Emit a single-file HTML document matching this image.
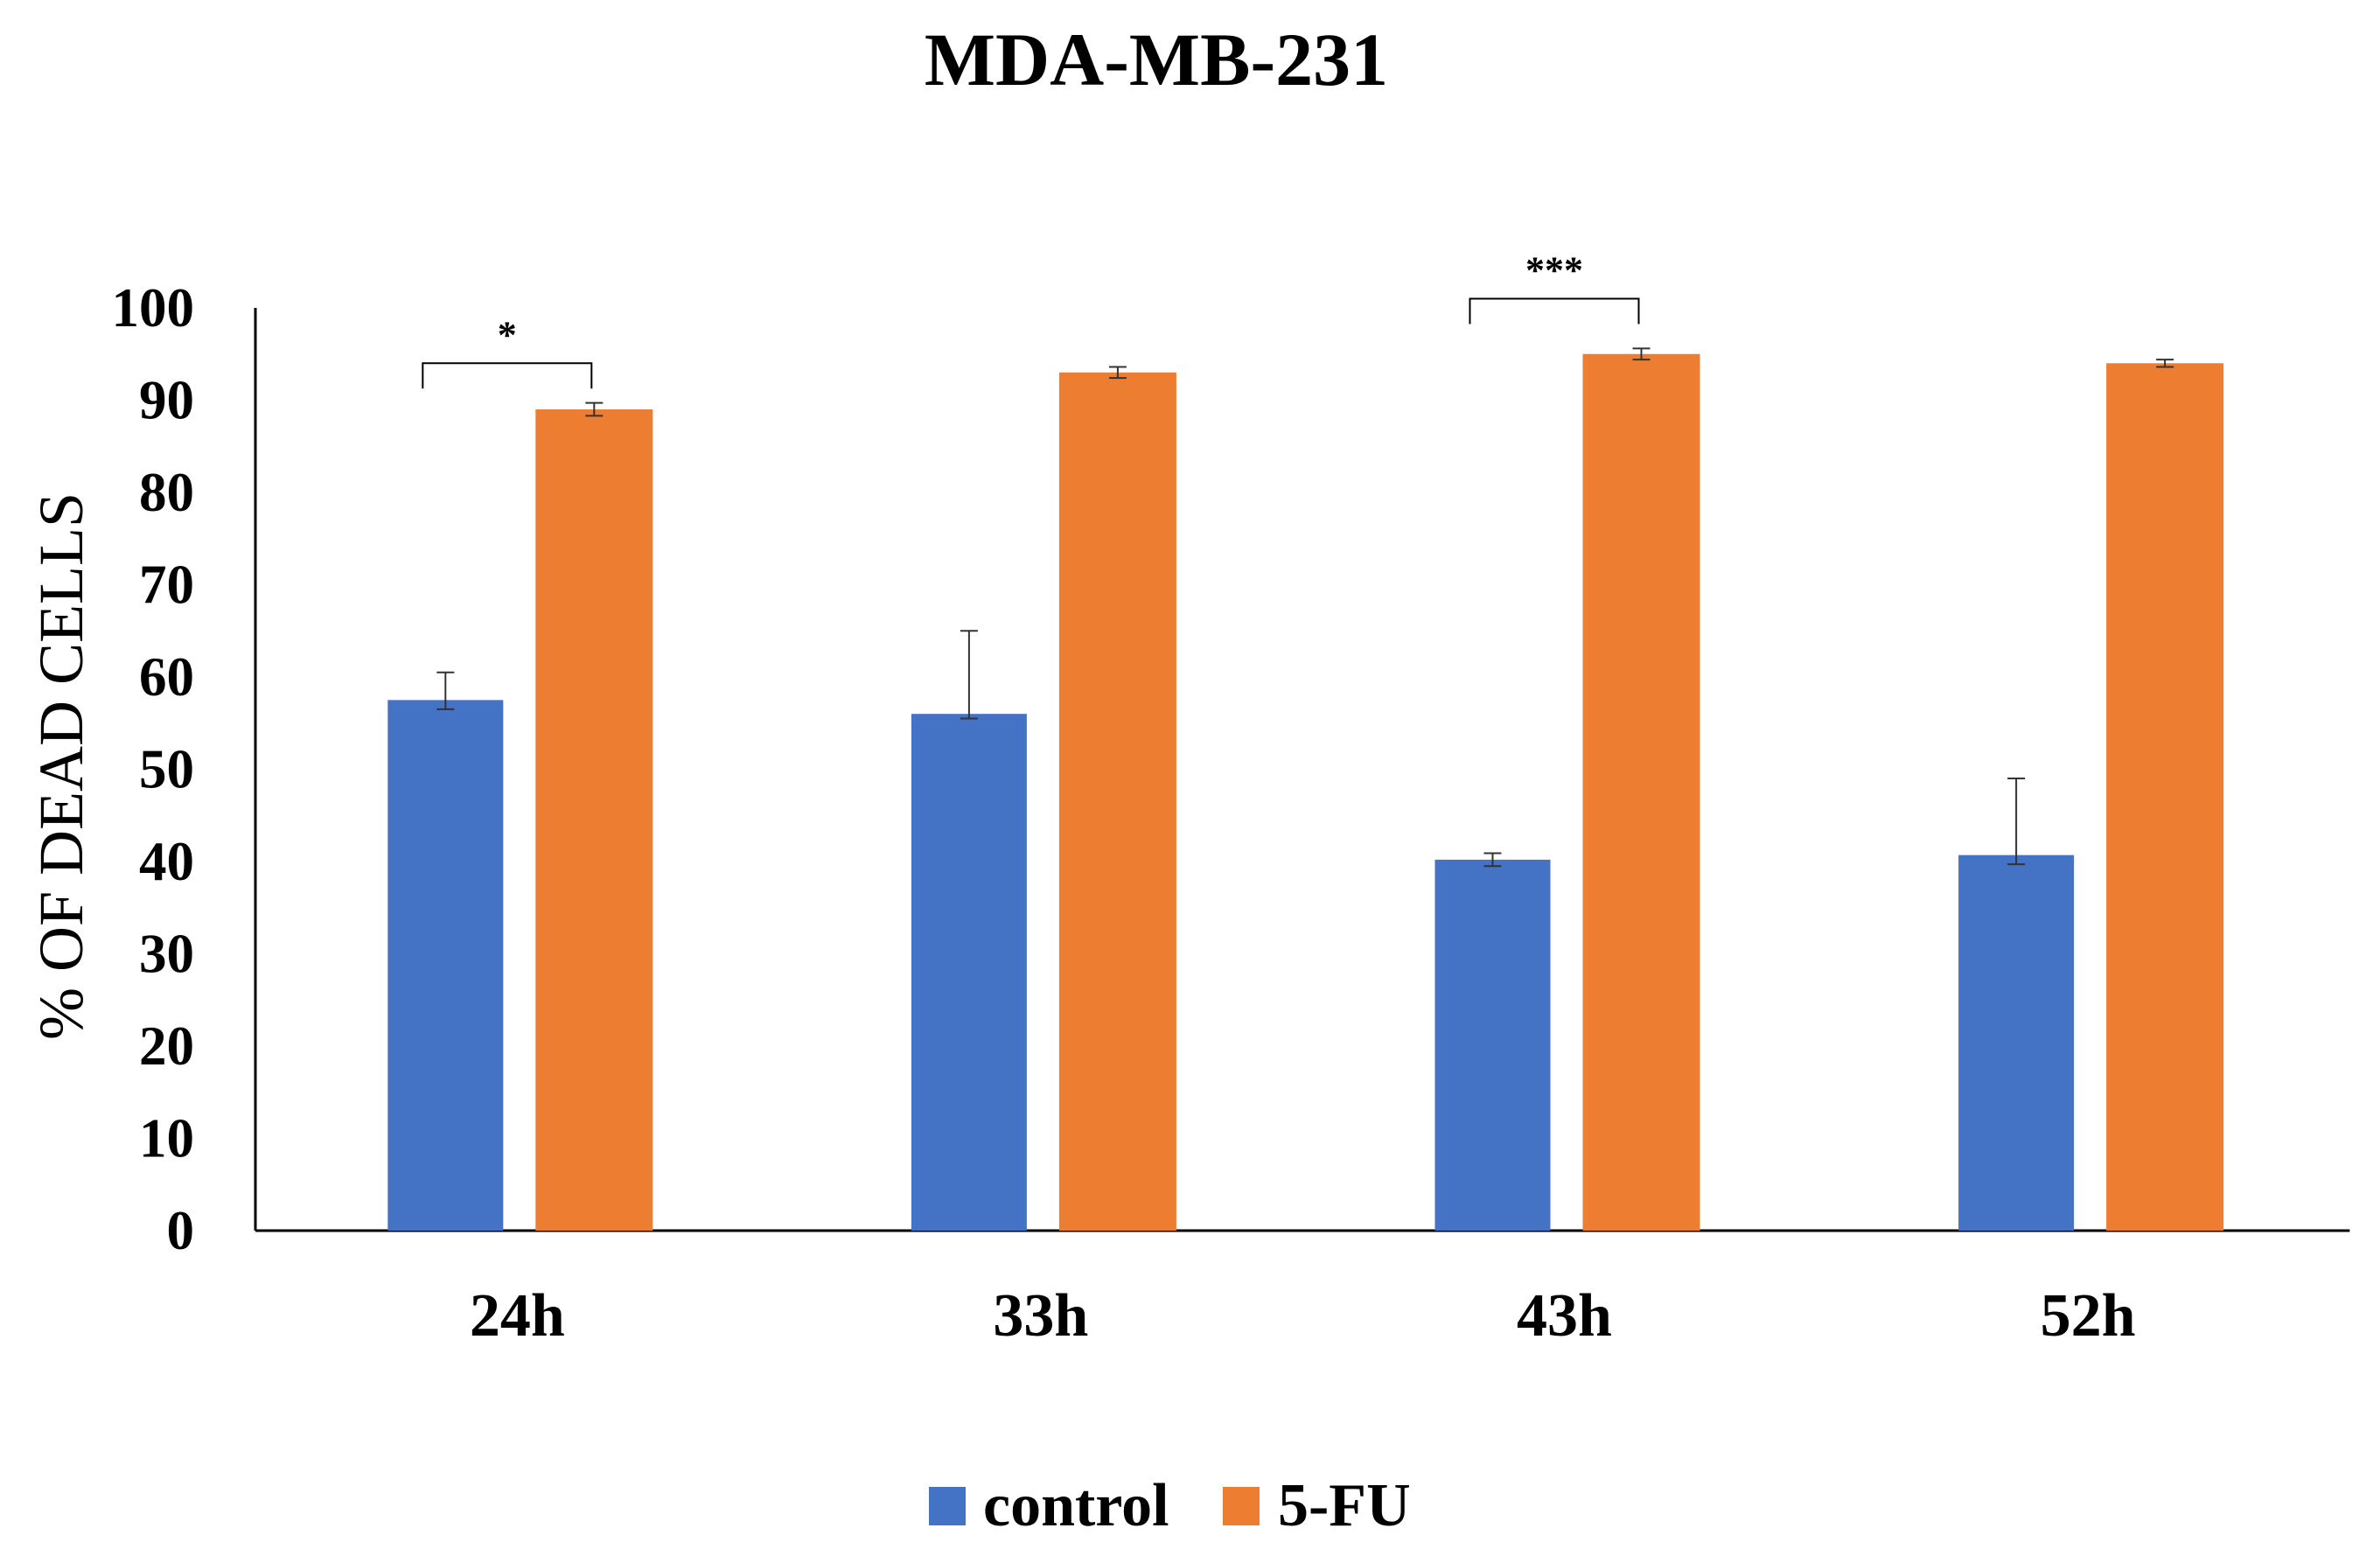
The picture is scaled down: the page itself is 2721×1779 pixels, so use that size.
<!DOCTYPE html>
<html><head><meta charset="utf-8"><style>
html,body{margin:0;padding:0;background:#fff;}
svg{display:block;font-family:"Liberation Serif",serif;font-weight:bold;}
</style></head><body>
<svg id="chart" width="2721" height="1779" viewBox="0 0 2721 1779">
<text x="1322" y="97" text-anchor="middle" font-size="86">MDA-MB-231</text>
<text transform="translate(94,876) rotate(-90)" text-anchor="middle" font-size="72" font-weight="normal">% OF DEAD CELLS</text>
<g id="plot"></g>
<g>
<rect x="1062" y="1700" width="42" height="44" fill="#4472C4"/>
<text x="1124" y="1744" font-size="70">control</text>
<rect x="1398" y="1700" width="42" height="44" fill="#ED7D31"/>
<text x="1461" y="1744" font-size="70">5-FU</text>
</g>
</svg>
<script>
const categories = ["24h","33h","43h","52h"];
const controlValues = [57.5, 56, 40.2, 40.7];
const controlErrUp = [3, 9, 0.7, 8.3];
const controlErrDown = [1, 0.5, 0.7, 1];
const fuValues = [89, 93, 95, 94];
const fuErr = [0.7, 0.6, 0.6, 0.4];
const yTicks = [0,10,20,30,40,50,60,70,80,90,100];
const sigLabels = ["*", "", "***", ""];
const sigLevels = [94, 0, 101, 0];

const NS = "http://www.w3.org/2000/svg";
const g = document.getElementById("plot");
const x0 = 292, yBase = 1407, yTop = 352;
const band = 598.6;
const x1 = x0 + band * categories.length;
const y = v => yBase - (v / 100) * (yBase - yTop);
const cx = i => x0 + band * (i + 0.5);
function mk(tag, attrs){ const e = document.createElementNS(NS, tag); for (const k in attrs) e.setAttribute(k, attrs[k]); g.appendChild(e); return e; }

let ax = mk("line",{x1:x0,y1:yTop,x2:x0,y2:yBase,stroke:"#000","stroke-width":3});


let bx = mk("line",{x1:x0,y1:yBase,x2:x1,y2:yBase,stroke:"#000","stroke-width":3});



yTicks.forEach(t => {
  const tx = mk("text",{x:222,y:y(t)+21,"text-anchor":"end","font-size":63});
  tx.textContent = t;
  
  
});

function errBar(xc, top, bot, capW){
  const l = mk("line",{x1:xc,y1:top,x2:xc,y2:bot,stroke:"#333","stroke-width":2});
  
  
  [top,bot].forEach(yy => {
    const c = mk("line",{x1:xc-capW,y1:yy,x2:xc+capW,y2:yy,stroke:"#333","stroke-width":2});
    
    
  });
}

const bw = 132;
categories.forEach((c, i) => {
  const bxL = cx(i) - 148, oxL = cx(i) + 21;
  const b = mk("rect",{x:bxL,y:y(controlValues[i]),width:bw,height:yBase - y(controlValues[i]),fill:"#4472C4"});
  
  
  const o = mk("rect",{x:oxL,y:y(fuValues[i]),width:bw+2,height:yBase - y(fuValues[i]),fill:"#ED7D31"});
  
  
  errBar(bxL + bw/2, y(controlValues[i] + controlErrUp[i]), y(controlValues[i] - controlErrDown[i]), 10);
  errBar(oxL + bw/2 + 1, y(fuValues[i] + fuErr[i]), y(fuValues[i] - fuErr[i]), 10);
  const lbl = mk("text",{x:cx(i),y:1527,"text-anchor":"middle","font-size":70});
  lbl.textContent = c;
  
  
  if (sigLabels[i]) {
    const xa = bxL + bw/2 - 26, xb = oxL + bw/2 - 2;
    const top = y(sigLevels[i]), bot = top + 29;
    const br = mk("path",{d:`M${xa},${bot} L${xa},${top} L${xb},${top} L${xb},${bot}`,fill:"none",stroke:"#000","stroke-width":2});
    
    
    const st = mk("text",{x:(xa+xb)/2,y:top-18,"text-anchor":"middle","font-size":44});
    st.textContent = sigLabels[i];
    
    
  }
});
</script>
</body></html>
